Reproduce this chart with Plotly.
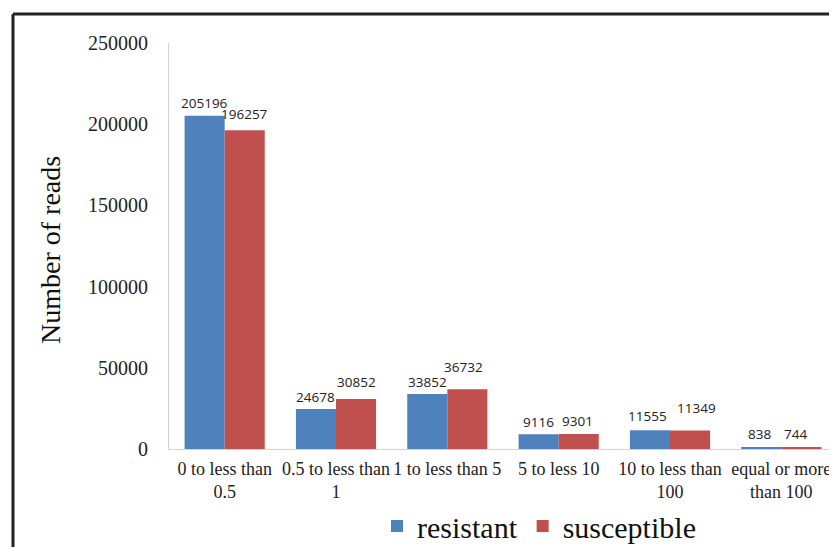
import plotly.graph_objects as go

categories = ["0 to less than<br>0.5", "0.5 to less than<br>1", "1 to less than 5",
              "5 to less 10", "10 to less than<br>100", "equal or more<br>than 100"]
resistant = [205196, 24678, 33852, 9116, 11555, 838]
susceptible = [196257, 30852, 36732, 9301, 11349, 744]
y_ticks = [0, 50000, 100000, 150000, 200000, 250000]

# label nudges (pixels) mimicking the original's label placement
res_lift = [13, 12, 12.5, 12.5, 14, 14]
sus_lift = [16, 17, 22.5, 12.5, 22.5, 14]
res_dx = [0, 0, 0, 0, -2, -2]
sus_dx = [0, 0, -4, -1, 6, -6]

# page has an 8px body margin; work in page pixel coordinates
OFF = 8
W, H = 837 - OFF, 547 - OFF
L, R, T, B = 169 - OFF, 0, 43 - OFF, 98
BARGAP = 0.28

label_font = dict(family="Open Sans", size=13.5, color="#222222")

fig = go.Figure()
fig.add_trace(go.Bar(x=categories, y=resistant, name="resistant",
                     marker=dict(color="#4F81BD", line=dict(width=0))))
fig.add_trace(go.Bar(x=categories, y=susceptible, name="susceptible",
                     marker=dict(color="#C0504D", line=dict(width=0))))

pw = W - L - R
ph = H - T - B
half_bar = pw / len(categories) * (1 - BARGAP) / 4

def px_x(x):  # page x -> paper
    return (x - OFF - L) / pw

def px_y(y):  # page y -> paper
    return (H - B - (y - OFF)) / ph

annotations = []
for i, c in enumerate(categories):
    annotations.append(dict(x=c, y=resistant[i], xref="x", yref="y",
                            text=str(resistant[i]), showarrow=False,
                            xanchor="center", yanchor="middle",
                            xshift=-half_bar + res_dx[i], yshift=res_lift[i],
                            font=label_font))
    annotations.append(dict(x=c, y=susceptible[i], xref="x", yref="y",
                            text=str(susceptible[i]), showarrow=False,
                            xanchor="center", yanchor="middle",
                            xshift=half_bar + sus_dx[i], yshift=sus_lift[i],
                            font=label_font))

annotations.append(dict(
    text="Number of reads", xref="paper", yref="paper",
    x=px_x(50), y=px_y(250), xanchor="center", yanchor="middle",
    textangle=-90, showarrow=False,
    font=dict(family="Liberation Serif", size=28, color="#111111"),
))

fig.update_layout(
    width=W, height=H,
    margin=dict(l=L, r=R, t=T, b=B, pad=0, autoexpand=False),
    paper_bgcolor="white", plot_bgcolor="white",
    barmode="group", bargap=BARGAP, bargroupgap=0,
    font=dict(family="Liberation Serif", color="#222222"),
    xaxis=dict(
        showline=True, linecolor="#d4d4d4", linewidth=1,
        ticks="", tickangle=0, showgrid=False, automargin=False,
        tickfont=dict(family="Liberation Serif", size=18, color="#222222"),
        ticklabelstandoff=3,
    ),
    yaxis=dict(
        range=[0, 250000], tickvals=y_ticks,
        ticktext=[str(v) for v in y_ticks],
        showline=True, linecolor="#d4d4d4", linewidth=1,
        ticks="", showgrid=False, zeroline=False, automargin=False,
        tickfont=dict(family="Liberation Serif", size=20, color="#222222"),
        ticklabelstandoff=16,
    ),
    showlegend=True,
    legend=dict(
        orientation="h", x=px_x(539), xanchor="center",
        y=px_y(526), yanchor="middle",
        font=dict(family="Liberation Serif", size=30, color="#111111"),
        bgcolor="rgba(0,0,0,0)", itemwidth=30, tracegroupgap=0,
    ),
    annotations=annotations,
    shapes=[
        dict(type="line", xref="paper", yref="paper",
             x0=px_x(13), x1=px_x(900), y0=px_y(14), y1=px_y(14),
             line=dict(color="#222222", width=3)),
        dict(type="line", xref="paper", yref="paper",
             x0=px_x(13), x1=px_x(13), y0=px_y(14), y1=px_y(600),
             line=dict(color="#222222", width=3)),
    ],
)

fig.write_html("out.html")
